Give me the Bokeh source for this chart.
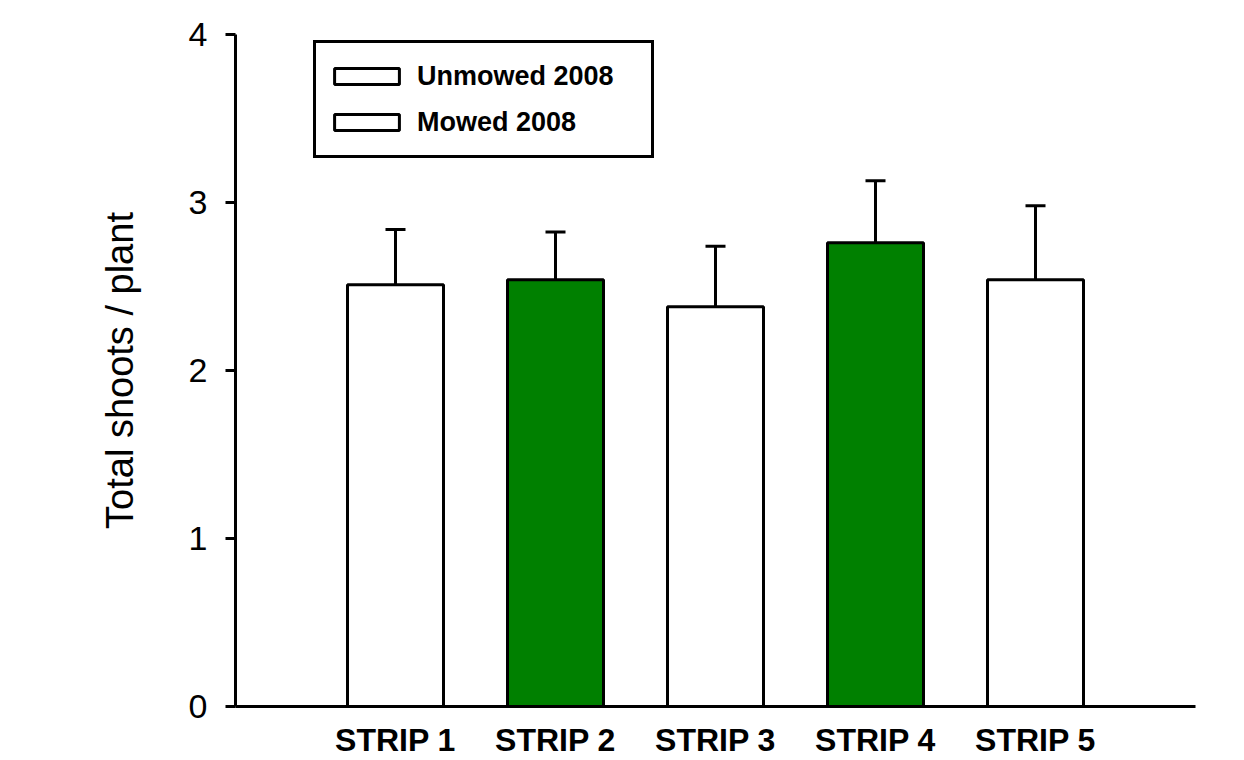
from bokeh.plotting import figure
from bokeh.models import (ColumnDataSource, Range1d, FixedTicker, Whisker, TeeHead,
                          Legend, LegendItem)
from bokeh.embed import file_html
from bokeh.resources import INLINE

# ---- data ----
strips = ["STRIP 1", "STRIP 2", "STRIP 3", "STRIP 4", "STRIP 5"]
means = [2.51, 2.54, 2.38, 2.76, 2.54]
errors = [0.33, 0.285, 0.36, 0.37, 0.44]
bar_colors = ["white", "#008000", "white", "#008000", "white"]
legend_labels = ["Unmowed 2008", "Mowed 2008"]
y_ticks = [0, 1, 2, 3, 4]

FONT = "Liberation Sans"

xpos = [i + 1 for i in range(len(strips))]
src = ColumnDataSource(dict(
    x=xpos, top=means, upper=[m + e for m, e in zip(means, errors)],
    color=bar_colors,
))

p = figure(width=1244, height=760, output_backend="svg", toolbar_location=None,
           x_range=Range1d(0, len(strips) + 1), y_range=Range1d(0, 4),
           min_border_left=235, min_border_right=49, min_border_top=34,
           min_border_bottom=54)
p.outline_line_color = None
p.grid.visible = False
p.background_fill_color = "white"
p.border_fill_color = "white"

bars = p.vbar(x="x", top="top", width=0.6, bottom=0, source=src, fill_color="color",
              line_color="black", line_width=3)

w = Whisker(base="x", lower="top", upper="upper", source=src, dimension="height",
            line_color="black", line_width=3, lower_head=None,
            upper_head=TeeHead(size=20, line_color="black", line_width=3))
p.add_layout(w)

# axes
p.xaxis.ticker = FixedTicker(ticks=xpos)
p.xaxis.major_label_overrides = {x: s for x, s in zip(xpos, strips)}
p.xaxis.axis_line_width = 3
p.xaxis.axis_line_color = "black"
p.xaxis.major_tick_line_color = None
p.xaxis.major_tick_out = 0
p.xaxis.major_tick_in = 0
p.xaxis.minor_tick_line_color = None
p.xaxis.major_label_text_font = FONT
p.xaxis.major_label_text_font_size = "32px"
p.xaxis.major_label_text_font_style = "bold"
p.xaxis.major_label_text_color = "black"
p.xaxis.major_label_standoff = 15

p.yaxis.ticker = FixedTicker(ticks=y_ticks)
p.yaxis.axis_line_width = 3
p.yaxis.axis_line_color = "black"
p.yaxis.major_tick_line_width = 3
p.yaxis.major_tick_out = 10
p.yaxis.major_tick_in = 0
p.yaxis.minor_tick_line_color = None
p.yaxis.major_label_text_font = FONT
p.yaxis.major_label_text_font_size = "34px"
p.yaxis.major_label_text_color = "black"
p.yaxis.major_label_standoff = 18
p.yaxis.axis_label = "Total shoots / plant"
p.yaxis.axis_label_text_font = FONT
p.yaxis.axis_label_text_font_size = "38px"
p.yaxis.axis_label_text_font_style = "normal"
p.yaxis.axis_label_text_color = "black"
p.yaxis.axis_label_standoff = 45

# legend (both swatches drawn white as in the original)
legend = Legend(items=[LegendItem(label=legend_labels[0], renderers=[bars], index=0),
                       LegendItem(label=legend_labels[1], renderers=[bars], index=0)],
                location=(78, 548), orientation="vertical",
                border_line_color="black", border_line_width=3, border_line_alpha=1,
                background_fill_color="white", background_fill_alpha=1,
                label_text_font=FONT, label_text_font_size="27px",
                label_text_font_style="bold", label_text_color="black",
                glyph_width=81, glyph_height=20, label_height=46, label_width=224,
                label_standoff=10, spacing=0, padding=10, margin=0)
p.add_layout(legend, "center")

open("out.html", "w").write(file_html(p, INLINE))
